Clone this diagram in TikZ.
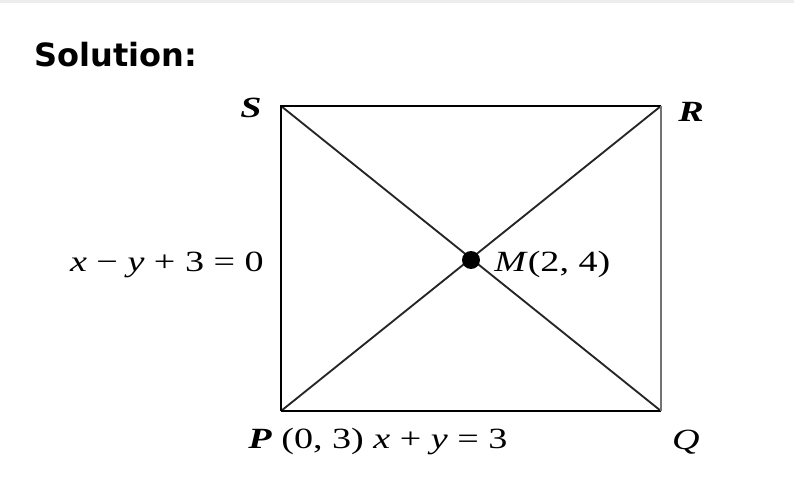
\documentclass[tikz,border=0pt]{standalone}
\usepackage{fontspec}
\setmainfont{Liberation Serif}
\newfontfamily\lblfont[FakeStretch=1.3]{Liberation Serif}
\newfontfamily\solfont{DejaVu Sans}
\begin{document}
\begin{tikzpicture}[x=0.75pt,y=-0.75pt,
  lbl/.style={inner sep=0pt,font=\lblfont\fontsize{22}{26}\selectfont},
  side/.style={line width=1.9pt,black},
  diag/.style={line width=1.4pt,black!85}]
\useasboundingbox (0,0) rectangle (794,478);
\fill[black!7] (0,0) rectangle (794,3);
\node[anchor=west,inner sep=0pt,font=\solfont\bfseries\fontsize{24}{28}\selectfont] (sol) at (34,55) {Solution:};
\coordinate (S) at (281,106);
\coordinate (R) at (661,106);
\coordinate (Q) at (661,411);
\coordinate (P) at (281,411);
\coordinate (M) at (471,260);
\draw[diag] (S) -- (Q);
\draw[diag] (P) -- (R);
\draw[side] (P) -- (S) -- (R);
\draw[side] (P) -- (Q);
\draw[line width=1pt,black!55] (R) -- (Q);
\fill (M) circle (9);
\node[lbl] (lS) at (251,108) {\textbf{\textit{S}}};
\node[lbl] (lR) at (691,112) {\textbf{\textit{R}}};
\node[lbl] (lQ) at (686,442) {\textit{Q}};
\node[lbl,anchor=east] (lPS) at (264,265) {\textit{x} − \textit{y} + 3 = 0};
\node[lbl,anchor=west] (lM) at (494,264) {\textit{M}(2, 4)};
\node[lbl,anchor=west] (lP) at (248,441) {\textbf{\textit{P}} (0, 3) \textit{x} + \textit{y} = 3};
\end{tikzpicture}
\end{document}
